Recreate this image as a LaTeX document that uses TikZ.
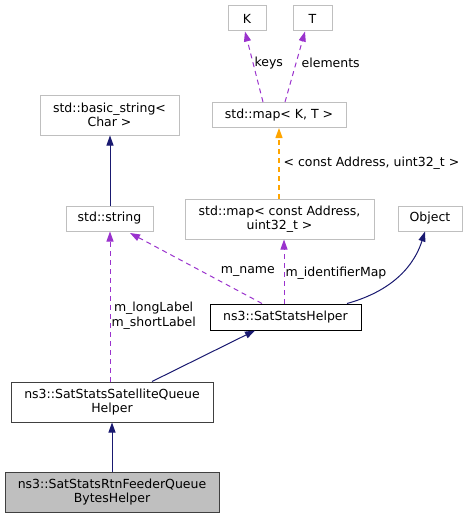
\documentclass[tikz,border=0pt]{standalone}
\usepackage{fontspec}
\setmainfont{DejaVu Sans}
\usetikzlibrary{positioning, arrows.meta}
\definecolor{navy}{HTML}{191970}
\definecolor{orchid}{HTML}{9A32CD}
\definecolor{gold}{HTML}{FFA500}
\definecolor{extgray}{HTML}{BFBFBF}
\begin{document}
\begin{tikzpicture}[x=1pt, y=-1pt,
		font=\fontsize{12.5}{14.5}\selectfont,
		every node/.style = {inner sep=1pt},
		cls/.style args = {#1/#2}{%
			draw=#1, fill=#2, line width=1pt, align=center,
			minimum height=25pt, inner sep=0pt},
		tip/.style = {-{Triangle[length=10pt, width=7pt]}},
		inh/.style = {tip, draw=navy, line width=1pt},
		usg/.style = {tip, draw=orchid, line width=1pt,
			dash pattern=on 5pt off 4pt},
		tpl/.style = {tip, draw=gold, line width=1.2pt,
			dash pattern=on 5pt off 4pt}
                    ]
		\useasboundingbox (0,0) rectangle (471,519);
		\node(K) [cls=extgray/white, minimum width=38pt] at (247, 18.5) {K};
		\node(T) [cls=extgray/white, minimum width=39pt] at (312.5, 18.5) {T};
		\node(mapKT) [cls=extgray/white, minimum width=134pt] at (279, 115) {std::map< K, T >};
		\node(bstr) [cls=extgray/white, minimum width=139pt, minimum height=40pt] at (109.5, 115) {std::basic\_string<\\Char >};
		\node(str) [cls=extgray/white, minimum width=87pt] at (109.5, 218.5) {std::string};
		\node(mapAddr) [cls=extgray/white, minimum width=189pt, minimum height=40pt] at (279.5, 219) {std::map< const Address,\\uint32\_t >};
		\node(obj) [cls=extgray/white, minimum width=64pt] at (430, 218.5) {Object};
		\node(helper) [cls=black/white, minimum width=151pt, minimum height=26pt] at (285.5, 317) {ns3::SatStatsHelper};
		\node(satq) [cls=black!75/white, minimum width=202pt, minimum height=40pt] at (112, 402) {ns3::SatStatsSatelliteQueue\\Helper};
		\node(rtn) [cls=black!75/extgray, minimum width=214pt, minimum height=40pt] at (112, 492) {ns3::SatStatsRtnFeederQueue\\BytesHelper};

		\draw[inh] (str.north -| 110,0) -- (bstr.south -| 110,0);
		\draw[tpl] (mapAddr.north -| 279,0) -- node[anchor=west, xshift=3pt] {< const Address, uint32\_t >} (mapKT.south -| 279,0);
		\draw[usg] (mapKT.north -| 263,0) -- node[pos=0.55, anchor=west] {keys} (K.south -| 245,0);
		\draw[usg] (mapKT.north -| 285,0) -- node[pos=0.56, anchor=west, xshift=4pt] {elements} (T.south -| 305,0);
		\draw[usg] (helper.north -| 262,0) -- node[pos=0.46, anchor=east, xshift=75pt] {m\_name} (130, 233);
		\draw[usg] (helper.north -| 284,0) -- node[pos=0.48, anchor=west] {m\_identifierMap} (mapAddr.south -| 284,0);
		\draw[inh] (helper.north -| 347,0) .. controls (385,293) and (412,272) .. (obj.south -| 425,0);
		\draw[usg] (satq.north -| 110,0) -- node[pos=0.44, anchor=west, align=center] {m\_longLabel\\m\_shortLabel} (str.south -| 110,0);
		\draw[inh] (satq.north -| 152,0) -- (helper.south -| 255,0);
		\draw[inh] (rtn) -- (satq);
	\end{tikzpicture}
\end{document}
